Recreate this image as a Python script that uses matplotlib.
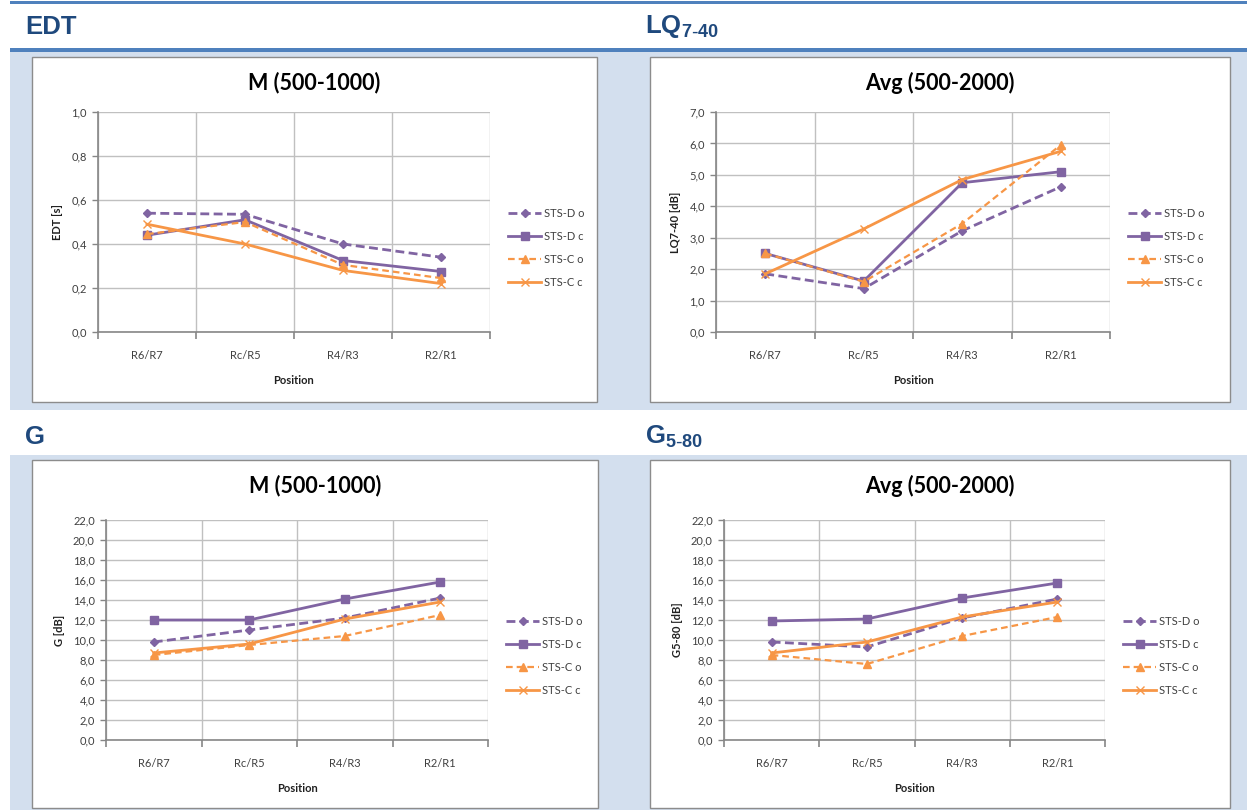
import matplotlib
matplotlib.use("Agg")
import matplotlib.pyplot as plt
from matplotlib.patches import Rectangle
from matplotlib.ticker import FuncFormatter, FixedLocator

W, H = 1247, 810

positions = ["R6/R7", "Rc/R5", "R4/R3", "R2/R1"]
series_names = ["STS-D o", "STS-D c", "STS-C o", "STS-C c"]

edt_d_o = [0.54, 0.535, 0.40, 0.34]
edt_d_c = [0.44, 0.51, 0.325, 0.275]
edt_c_o = [0.445, 0.50, 0.305, 0.245]
edt_c_c = [0.49, 0.40, 0.28, 0.22]

lq_d_o = [1.85, 1.38, 3.22, 4.62]
lq_d_c = [2.50, 1.62, 4.75, 5.10]
lq_c_o = [2.50, 1.60, 3.45, 5.95]
lq_c_c = [1.85, 3.28, 4.85, 5.75]

g_d_o = [9.8, 11.0, 12.2, 14.2]
g_d_c = [12.0, 12.0, 14.1, 15.8]
g_c_o = [8.5, 9.5, 10.4, 12.5]
g_c_c = [8.7, 9.6, 12.1, 13.8]

g580_d_o = [9.8, 9.3, 12.2, 14.1]
g580_d_c = [11.9, 12.1, 14.2, 15.7]
g580_c_o = [8.5, 7.6, 10.4, 12.3]
g580_c_c = [8.7, 9.8, 12.3, 13.8]

PURPLE = "#8064A2"
ORANGE = "#F79646"
HEAD = "#1F497D"
BAND = "#D3DFEE"
LINEBLUE = "#4F81BD"

styles = [
    dict(color=PURPLE, ls=(0, (3.2, 1.6)), marker="D", ms=4.5, lw=2.0),
    dict(color=PURPLE, ls="-", marker="s", ms=6, lw=2.0),
    dict(color=ORANGE, ls=(0, (3, 1.8)), marker="^", ms=6, lw=1.6),
    dict(color=ORANGE, ls="-", marker="x", ms=6, lw=2.0, mew=1.0),
]

fig = plt.figure(figsize=(W / 100, H / 100), dpi=100)
fig.patch.set_facecolor("white")


def frect(x0, y0, x1, y1, **kw):
    fig.patches.append(Rectangle((x0 / W, 1 - y1 / H), (x1 - x0) / W, (y1 - y0) / H,
                                 transform=fig.transFigure, **kw))


# background bands
frect(10, 52, W, 410, facecolor=BAND, edgecolor="none", zorder=-3)
frect(10, 455, W, H, facecolor=BAND, edgecolor="none", zorder=-3)
frect(10, 1, W, 4, facecolor=LINEBLUE, edgecolor="none", zorder=-2)
frect(10, 48, W, 52, facecolor=LINEBLUE, edgecolor="none", zorder=-2)

# section headers
hfont = dict(family="Liberation Sans", weight="bold", color=HEAD)
fig.text(25 / W, 1 - 27 / H, "EDT", fontsize=18.5, va="center", ha="left", **hfont)
fig.text(645 / W, 1 - 27 / H, r"LQ$_{\mathregular{7\text{-}40}}$", fontsize=18.5, va="center", ha="left", **hfont)
fig.text(25 / W, 1 - 437 / H, "G", fontsize=18.5, va="center", ha="left", **hfont)
fig.text(645 / W, 1 - 437 / H, r"G$_{\mathregular{5\text{-}80}}$", fontsize=18.5, va="center", ha="left", **hfont)

CFONT = "Lato"
TS = 8


def comma_fmt(v, pos):
    return f"{v:.1f}".replace(".", ",")


def chart(box, plot, data, ymax, ystep, ylabel, title):
    bx0, by0, bx1, by1 = box
    frect(bx0, by0, bx1, by1, facecolor="white", edgecolor="#8C8C8C", lw=1.0, zorder=-1)
    px0, py0, px1, py1 = plot
    ax = fig.add_axes([px0 / W, 1 - py1 / H, (px1 - px0) / W, (py1 - py0) / H])
    ax.set_zorder(2)
    ax.set_facecolor("none")
    x = list(range(len(positions)))
    handles = []
    for vals, st, name in zip(data, styles, series_names):
        h, = ax.plot(x, vals, color=st["color"], ls=st["ls"], lw=st["lw"], marker=st["marker"],
                     ms=st["ms"], mew=st.get("mew", 1.0), mfc=st["color"], mec=st["color"],
                     label=name, zorder=3, clip_on=False)
        handles.append(h)
    ax.set_xlim(-0.5, len(positions) - 0.5)
    ax.set_ylim(0, ymax)
    n = int(round(ymax / ystep))
    ax.yaxis.set_major_locator(FixedLocator([i * ystep for i in range(n + 1)]))
    ax.yaxis.set_major_formatter(FuncFormatter(comma_fmt))
    ax.set_xticks(x)
    ax.set_xticklabels(positions)
    ax.xaxis.set_minor_locator(FixedLocator([i - 0.5 for i in range(len(positions) + 1)]))
    ax.tick_params(axis="x", which="major", length=0, pad=13, labelsize=TS, labelcolor="#404040")
    ax.tick_params(axis="x", which="minor", length=5, width=1.2, color="#868686", direction="out")
    ax.tick_params(axis="y", length=4, width=1.0, color="#868686", labelsize=TS, labelcolor="#404040", pad=4)
    for lab in ax.get_xticklabels() + ax.get_yticklabels():
        lab.set_family(CFONT)
    ax.grid(True, axis="y", color="#C0C0C0", lw=1.0)
    ax.grid(True, axis="x", which="minor", color="#C0C0C0", lw=1.0)
    ax.grid(False, axis="x", which="major")
    ax.set_axisbelow(True)
    for s in ["top", "right"]:
        ax.spines[s].set_visible(False)
    for s in ["left", "bottom"]:
        ax.spines[s].set_color("#868686")
        ax.spines[s].set_linewidth(1.2)
    ax.set_xlabel("Position", fontsize=TS, fontweight="bold", family=CFONT, labelpad=10, color="#202020")
    ax.set_ylabel(ylabel, fontsize=TS, fontweight="bold", family=CFONT, labelpad=6, color="#202020")
    fig.text((bx0 + bx1) / 2 / W, 1 - (by0 + 26) / H, title, fontsize=15.5, fontweight="bold",
             family=CFONT, ha="center", va="center", color="black")
    leg = ax.legend(handles=handles, loc="center left",
                    bbox_to_anchor=((px1 + 8) / W, 1 - ((py0 + py1) / 2 + 26) / H),
                    bbox_transform=fig.transFigure, frameon=False,
                    handlelength=3.0, handletextpad=0.25, labelspacing=1.1,
                    prop=dict(family=CFONT, size=TS))
    for t in leg.get_texts():
        t.set_color("#404040")
    return ax


chart((32, 57, 597, 402), (98, 112, 490, 332),
      [edt_d_o, edt_d_c, edt_c_o, edt_c_c], 1.0, 0.2, "EDT [s]", "M (500-1000)")
chart((650, 57, 1230, 402), (716, 112, 1110, 332),
      [lq_d_o, lq_d_c, lq_c_o, lq_c_c], 7.0, 1.0, "LQ7-40 [dB]", "Avg (500-2000)")
chart((32, 460, 598, 808), (106, 520, 488, 740),
      [g_d_o, g_d_c, g_c_o, g_c_c], 22.0, 2.0, "G [dB]", "M (500-1000)")
chart((650, 460, 1230, 808), (724, 520, 1105, 740),
      [g580_d_o, g580_d_c, g580_c_o, g580_c_c], 22.0, 2.0, "G5-80 [dB]", "Avg (500-2000)")

fig.savefig("out.png", dpi=100, facecolor=fig.get_facecolor())
